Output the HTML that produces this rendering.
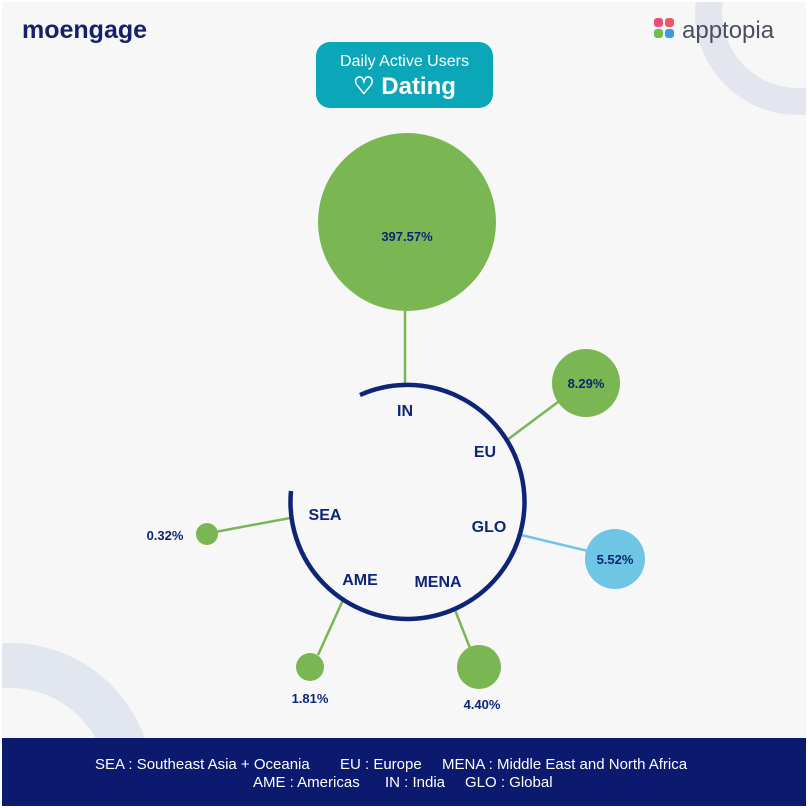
<!DOCTYPE html>
<html><head><meta charset="utf-8"><style>
html,body{margin:0;padding:0;background:#fff;overflow:hidden;width:808px;height:808px}
svg{display:block;position:absolute;left:0;top:0}
text{font-family:"Liberation Sans",sans-serif}
</style></head><body>
<svg width="808" height="808" viewBox="0 0 808 808" xmlns="http://www.w3.org/2000/svg">
<defs><clipPath id="c"><rect x="2" y="2" width="804" height="804"/></clipPath></defs>
<rect x="0" y="0" width="808" height="808" fill="#ffffff"/>
<rect x="2" y="2" width="804" height="804" fill="#f7f7f8"/>
<g clip-path="url(#c)">
<circle cx="798" cy="12" r="89.5" fill="none" stroke="#e3e6ee" stroke-width="27"/>
<circle cx="10" cy="786" r="120.5" fill="none" stroke="#e2e6ef" stroke-width="45"/>
</g>
<text x="22" y="38" font-size="25" font-weight="bold" fill="#14206b">moengage</text>
<g>
<rect x="654" y="18" width="9" height="9" rx="3" fill="#e8507a"/>
<rect x="665" y="18" width="9" height="9" rx="3" fill="#e85a6a"/>
<rect x="654" y="29" width="9" height="9" rx="3" fill="#6cc04a"/>
<rect x="665" y="29" width="9" height="9" rx="3" fill="#3a9be0"/>
</g>
<text x="682" y="38" font-size="24" fill="#4a4f5e">apptopia</text>
<rect x="316" y="42" width="177" height="66" rx="14" fill="#0ba6b8"/>
<text x="404.5" y="66" font-size="16" fill="#fff" text-anchor="middle">Daily Active Users</text>
<text x="404.5" y="94" font-size="24" font-weight="bold" fill="#fff" text-anchor="middle">♡ Dating</text>
<g stroke-width="2.5" fill="none">
<line x1="405" y1="311" x2="405" y2="385" stroke="#7ab651"/>
<line x1="558" y1="402" x2="507" y2="440" stroke="#7ab651"/>
<line x1="521" y1="535" x2="588" y2="551" stroke="#6ec6e4"/>
<line x1="455" y1="610" x2="470" y2="648" stroke="#7ab651"/>
<line x1="343" y1="600" x2="318" y2="655" stroke="#7ab651"/>
<line x1="290" y1="518" x2="215" y2="532" stroke="#7ab651"/>
</g>
<path d="M360 395 A117 117 0 1 1 291 491" fill="none" stroke="#0e2577" stroke-width="4.5"/>
<circle cx="407" cy="222" r="89" fill="#7ab651"/>
<circle cx="586" cy="383" r="34" fill="#7ab651"/>
<circle cx="615" cy="559" r="30" fill="#6ec6e4"/>
<circle cx="479" cy="667" r="22" fill="#7ab651"/>
<circle cx="310" cy="667" r="14" fill="#7ab651"/>
<circle cx="207" cy="534" r="11" fill="#7ab651"/>
<g font-size="13" font-weight="bold" fill="#0e2577" text-anchor="middle">
<text x="407" y="241">397.57%</text>
<text x="586" y="388">8.29%</text>
<text x="615" y="564">5.52%</text>
<text x="165" y="540">0.32%</text>
<text x="310" y="703">1.81%</text>
<text x="482" y="709">4.40%</text>
</g>
<g font-size="16" font-weight="bold" fill="#0e2577" text-anchor="middle">
<text x="405" y="416">IN</text>
<text x="485" y="457">EU</text>
<text x="489" y="532">GLO</text>
<text x="438" y="587">MENA</text>
<text x="360" y="585">AME</text>
<text x="325" y="520">SEA</text>
</g>
<rect x="2" y="738" width="804" height="68" fill="#0b1a6e"/>
<g font-size="15" fill="#fff">
<text x="95" y="769">SEA : Southeast Asia + Oceania</text>
<text x="340" y="769">EU : Europe</text>
<text x="442" y="769">MENA : Middle East and North Africa</text>
<text x="253" y="787">AME : Americas</text>
<text x="385" y="787">IN : India</text>
<text x="465" y="787">GLO : Global</text>
</g>
</svg>
</body></html>
